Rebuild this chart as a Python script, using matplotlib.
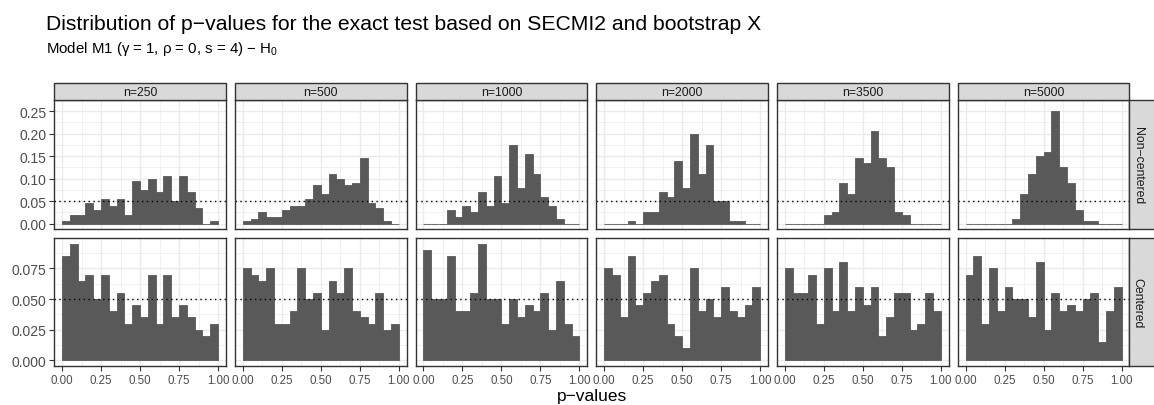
import numpy as np
import matplotlib
matplotlib.use("Agg")
from matplotlib import pyplot as plt
from matplotlib.patches import Rectangle

plt.rcParams['font.family'] = ['Liberation Sans', 'DejaVu Sans']
plt.rcParams['mathtext.fontset'] = 'custom'
plt.rcParams['mathtext.rm'] = 'Liberation Sans'
plt.rcParams['mathtext.it'] = 'Liberation Sans:italic'

# share of p-values per bin (20 bins on [0, 1])
sample_sizes = [250, 500, 1000, 2000, 3500, 5000]
bin_edges = np.linspace(0, 1, 21)

non_centered = [
    [0.005, 0.02, 0.02, 0.045, 0.03, 0.055, 0.04, 0.055, 0.02, 0.095,
     0.075, 0.10, 0.07, 0.105, 0.05, 0.105, 0.07, 0.035, 0.0, 0.005],
    [0.005, 0.01, 0.025, 0.015, 0.015, 0.03, 0.04, 0.04, 0.055, 0.085,
     0.065, 0.11, 0.10, 0.085, 0.09, 0.145, 0.045, 0.035, 0.005, 0.0],
    [0.0, 0.0, 0.0, 0.03, 0.015, 0.04, 0.025, 0.07, 0.04, 0.105,
     0.045, 0.175, 0.08, 0.155, 0.11, 0.06, 0.04, 0.01, 0.0, 0.0],
    [0.0, 0.0, 0.0, 0.005, 0.0, 0.025, 0.025, 0.07, 0.06, 0.14,
     0.08, 0.20, 0.11, 0.175, 0.05, 0.05, 0.005, 0.005, 0.0, 0.0],
    [0.0, 0.0, 0.0, 0.0, 0.0, 0.02, 0.025, 0.09, 0.065, 0.145,
     0.135, 0.205, 0.145, 0.125, 0.025, 0.02, 0.0, 0.0, 0.0, 0.0],
    [0.0, 0.0, 0.0, 0.0, 0.0, 0.0, 0.01, 0.065, 0.11, 0.15,
     0.16, 0.25, 0.125, 0.09, 0.03, 0.005, 0.005, 0.0, 0.0, 0.0],
]
centered = [
    [0.085, 0.095, 0.065, 0.07, 0.05, 0.07, 0.04, 0.055, 0.03, 0.045,
     0.035, 0.07, 0.03, 0.07, 0.035, 0.045, 0.035, 0.025, 0.02, 0.03],
    [0.075, 0.07, 0.065, 0.075, 0.03, 0.03, 0.04, 0.075, 0.05, 0.055,
     0.025, 0.065, 0.055, 0.075, 0.04, 0.035, 0.03, 0.055, 0.025, 0.03],
    [0.09, 0.05, 0.05, 0.085, 0.04, 0.04, 0.055, 0.095, 0.05, 0.05,
     0.03, 0.05, 0.035, 0.045, 0.04, 0.055, 0.025, 0.065, 0.03, 0.02],
    [0.075, 0.07, 0.035, 0.085, 0.045, 0.055, 0.065, 0.07, 0.03, 0.02,
     0.01, 0.075, 0.04, 0.05, 0.035, 0.06, 0.04, 0.035, 0.045, 0.06],
    [0.075, 0.055, 0.055, 0.07, 0.03, 0.075, 0.04, 0.08, 0.04, 0.06,
     0.045, 0.06, 0.02, 0.035, 0.055, 0.055, 0.025, 0.03, 0.055, 0.04],
    [0.07, 0.085, 0.03, 0.075, 0.04, 0.06, 0.05, 0.05, 0.035, 0.08,
     0.025, 0.055, 0.04, 0.045, 0.04, 0.05, 0.055, 0.015, 0.04, 0.06],
]
row_labels = ['Non\u2212centered', 'Centered']
row_ticks = [[0.0, 0.05, 0.10, 0.15, 0.20, 0.25], [0.0, 0.025, 0.05, 0.075]]
row_fmt = ['{:.2f}', '{:.3f}']
x_ticks = [0.0, 0.25, 0.5, 0.75, 1.0]
nominal = 0.05

W, H = 1154, 406
fig = plt.figure(figsize=(W / 100, H / 100), dpi=100)

left0, pitch, pw = 54.3, 180.7, 171.5
row_y = [(101.0, 230.2), (239.2, 367.0)]
bar_col = '#595959'
frame_col = '#333333'
strip_fill = '#D9D9D9'
grid_col = '#EBEBEB'


def fx(px):
    return px / W


def fy(py):
    return 1 - py / H


for r, rows in enumerate([non_centered, centered]):
    top, bot = row_y[r]
    ymax = max(max(v) for v in rows)
    pad = ymax * 0.05
    for c, vals in enumerate(rows):
        x0 = left0 + c * pitch
        ax = fig.add_axes([fx(x0), fy(bot), fx(pw), (bot - top) / H])
        ax.set_xlim(-0.05, 1.05)
        ax.set_ylim(-pad, ymax + pad)
        ax.set_axisbelow(True)
        ax.set_xticks(x_ticks)
        ax.set_xticks([0.125, 0.375, 0.625, 0.875], minor=True)
        yt = row_ticks[r]
        ax.set_yticks(yt)
        step = yt[1] - yt[0]
        ax.set_yticks([t + step / 2 for t in yt[:-1]] + [yt[-1] + step / 2], minor=True)
        ax.grid(True, which='major', color=grid_col, lw=1.0)
        ax.grid(True, which='minor', color=grid_col, lw=0.5)
        ax.bar(bin_edges[:-1], vals, width=0.05, align='edge', color=bar_col,
               edgecolor=bar_col, linewidth=0.6)
        ax.axhline(nominal, color='black', ls=(0, (1, 2.5)), lw=1.0)
        for s in ax.spines.values():
            s.set_color(frame_col)
            s.set_linewidth(1.0)
        ax.tick_params(which='minor', length=0)
        ax.tick_params(which='major', length=3.6, color=frame_col, width=0.8,
                       labelcolor='#4D4D4D', labelsize=8.3, pad=2)
        if c == 0:
            ax.set_yticklabels([row_fmt[r].format(t) for t in yt], fontsize=10)
        else:
            ax.tick_params(axis='y', left=False, labelleft=False)
        if r == 1:
            ax.set_xticklabels(['0.00', '0.25', '0.50', '0.75', '1.00'])
        else:
            ax.tick_params(axis='x', bottom=False, labelbottom=False)

        # column strip
        if r == 0:
            fig.patches.append(Rectangle((fx(x0), fy(101.0)), fx(pw), 17.0 / H,
                                         transform=fig.transFigure, facecolor=strip_fill,
                                         edgecolor=frame_col, lw=1.0))
            fig.text(fx(x0 + pw / 2), fy(92.5), 'n={}'.format(sample_sizes[c]),
                     ha='center', va='center', fontsize=8.8, color='#1A1A1A')

    # row strip
    sx = left0 + 5 * pitch + pw
    fig.patches.append(Rectangle((fx(sx), fy(bot)), fx(30), (bot - top) / H,
                                 transform=fig.transFigure, facecolor=strip_fill,
                                 edgecolor=frame_col, lw=1.0))
    fig.text(fx(sx + 8.5), fy((top + bot) / 2), row_labels[r], rotation=-90,
             ha='center', va='center', fontsize=8.8, color='#1A1A1A')

fig.text(fx(46.5), fy(29.5), 'Distribution of p\u2212values for the exact test based on SECMI2 and bootstrap X',
         ha='left', va='baseline', fontsize=15.2)
fig.text(fx(46.5), fy(52.5), 'Model M1 (\u03b3 = 1, \u03c1 = 0, s = 4) \u2212 H$_0$',
         ha='left', va='baseline', fontsize=10.8)
fig.text(fx((left0 + 5 * pitch + pw + left0) / 2), fy(401.5), 'p\u2212values',
         ha='center', va='baseline', fontsize=12.5)

fig.savefig('out.png', dpi=100)
